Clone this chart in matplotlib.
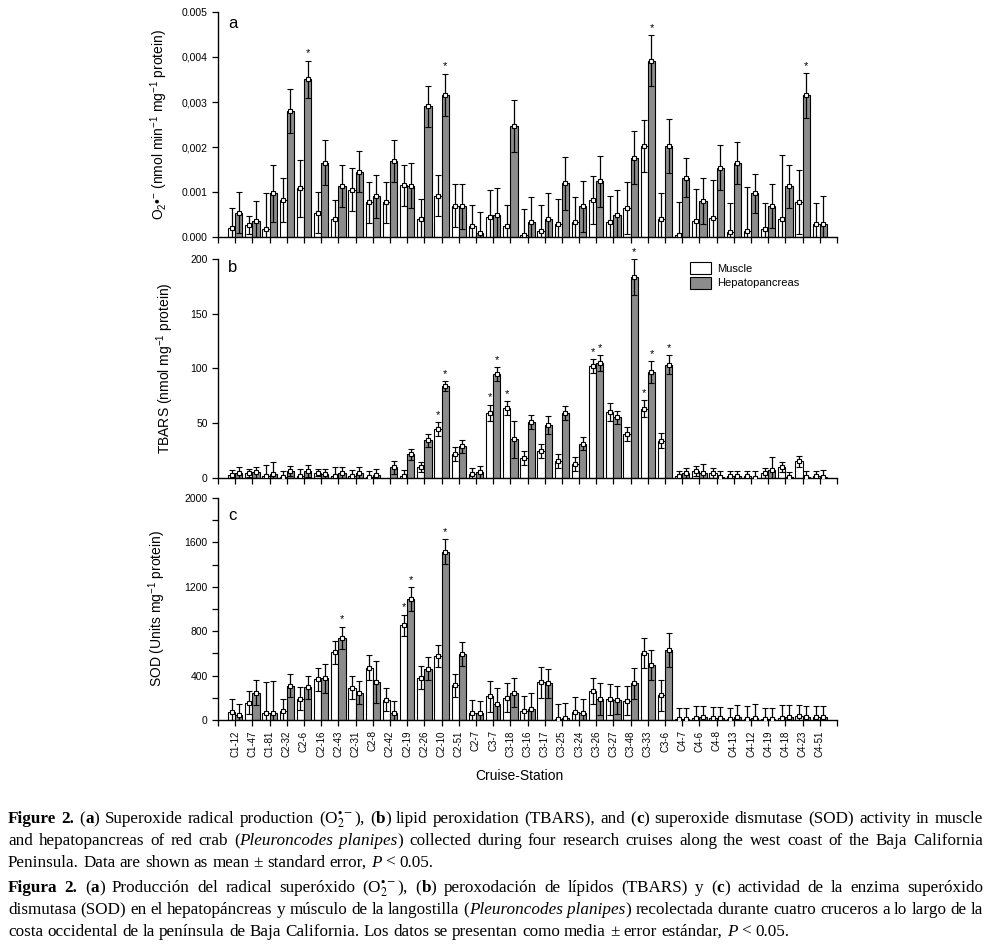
import re
import numpy as np
import matplotlib
matplotlib.use("Agg")
import matplotlib.pyplot as plt
from matplotlib.patches import Patch

plt.rcParams['font.family'] = ['Liberation Sans', 'DejaVu Sans']
plt.rcParams['mathtext.fontset'] = 'custom'
plt.rcParams['mathtext.rm'] = 'Liberation Sans'
plt.rcParams['mathtext.it'] = 'Liberation Sans:italic'
plt.rcParams['mathtext.bf'] = 'Liberation Sans:bold'

stations = ['C1-12', 'C1-47', 'C1-81', 'C2-32', 'C2-6', 'C2-16', 'C2-43', 'C2-31', 'C2-8',
            'C2-42', 'C2-19', 'C2-26', 'C2-10', 'C2-51', 'C2-7', 'C3-7', 'C3-18', 'C3-16',
            'C3-17', 'C3-25', 'C3-24', 'C3-26', 'C3-27', 'C3-48', 'C3-33', 'C3-6', 'C4-7',
            'C4-6', 'C4-8', 'C4-13', 'C4-12', 'C4-19', 'C4-18', 'C4-23', 'C4-51']

# (a) superoxide radical
o2_muscle = [0.00019, 0.00026, 0.00017, 0.00082, 0.00108, 0.00054, 0.00040, 0.00105, 0.00077,
             0.00077, 0.00115, 0.00041, 0.00092, 0.00070, 0.00025, 0.00045, 0.00025, 0.00005,
             0.00013, 0.00028, 0.00033, 0.00082, 0.00033, 0.00065, 0.00202, 0.00039, 0.00004,
             0.00036, 0.00043, 0.00012, 0.00014, 0.00017, 0.00040, 0.00077, 0.00030]
o2_muscle_se = [0.00045, 0.00020, 0.00080, 0.00048, 0.00063, 0.00045, 0.00042, 0.00048, 0.00045,
                0.00045, 0.00046, 0.00043, 0.00046, 0.00048, 0.00046, 0.00060, 0.00046, 0.00057,
                0.00059, 0.00057, 0.00056, 0.00054, 0.00059, 0.00058, 0.00057, 0.00058, 0.00073,
                0.00070, 0.00083, 0.00063, 0.00098, 0.00058, 0.00142, 0.00071, 0.00045]
o2_hepato = [0.00054, 0.00035, 0.00097, 0.00280, 0.00350, 0.00165, 0.00113, 0.00145, 0.00090,
             0.00169, 0.00114, 0.00290, 0.00316, 0.00068, 0.00010, 0.00050, 0.00247, 0.00033,
             0.00041, 0.00119, 0.00068, 0.00124, 0.00048, 0.00176, 0.00392, 0.00202, 0.00132,
             0.00080, 0.00154, 0.00164, 0.00097, 0.00068, 0.00113, 0.00315, 0.00030]
o2_hepato_se = [0.00045, 0.00044, 0.00063, 0.00048, 0.00042, 0.00050, 0.00047, 0.00045, 0.00047,
                0.00046, 0.00050, 0.00046, 0.00047, 0.00050, 0.00046, 0.00060, 0.00058, 0.00056,
                0.00057, 0.00058, 0.00057, 0.00057, 0.00057, 0.00059, 0.00057, 0.00060, 0.00043,
                0.00050, 0.00050, 0.00047, 0.00044, 0.00049, 0.00048, 0.00050, 0.00060]
o2_sig_muscle = []
o2_sig_hepato = ['C2-6', 'C2-10', 'C3-33', 'C4-23']

# (b) TBARS
tbars_muscle = [2.4, 4.6, 2.1, 0.5, 1.5, 4.9, 1.8, 1.8, 0.9, np.nan, 2.1, 10.4, 44.6, 21.7, 4.0,
                59.8, 63.5, 18.6, 24.4, 15.5, 12.8, 102.3, 60.5, 40.3, 63.2, 34.0, 1.5, 6.7, 4.6,
                1.8, 1.5, 4.6, 10.4, 15.3, 1.5]
tbars_muscle_se = [5.0, 3.7, 10.0, 6.0, 6.7, 3.4, 8.0, 5.5, 5.8, np.nan, 5.5, 4.6, 6.1, 6.4, 5.2,
                   7.3, 6.4, 6.4, 6.4, 6.1, 6.4, 6.1, 8.2, 6.7, 7.9, 6.7, 5.2, 4.6, 4.9, 4.9, 5.2,
                   4.6, 4.6, 4.9, 5.2]
tbars_hepato = [4.6, 5.2, 4.0, 6.4, 6.7, 4.0, 4.6, 4.9, 2.7, 9.8, 21.7, 34.5, 84.0, 29.0, 5.2,
                94.7, 35.4, 50.7, 48.2, 59.3, 31.5, 104.7, 55.3, 183.5, 96.5, 103.5, 4.6, 4.6, 0.9,
                1.8, 0.3, 7.6, 0.6, 0.9, 0.6]
tbars_hepato_se = [5.5, 5.2, 10.4, 4.9, 5.5, 4.0, 5.2, 5.5, 5.5, 6.1, 4.9, 6.1, 4.3, 6.1, 5.8,
                   6.4, 17.0, 6.4, 8.0, 6.1, 5.5, 7.3, 6.1, 16.5, 10.0, 8.5, 4.6, 8.5, 5.5, 4.9,
                   6.4, 11.6, 5.0, 5.2, 7.0]
tbars_sig_muscle = ['C2-10', 'C3-7', 'C3-18', 'C3-26', 'C3-33']
tbars_sig_hepato = ['C2-10', 'C3-7', 'C3-26', 'C3-48', 'C3-33', 'C3-6']

# (c) SOD
sod_muscle = [69, 157, 63, 81, 190, 368, 609, 290, 471, 184, 854, 380, 576, 314, 66, 214, 202, 84,
              341, 8, 72, 262, 187, 175, 606, 223, 6, 18, 21, 6, 9, 6, 21, 33, 24]
sod_muscle_se = [120, 105, 278, 109, 103, 103, 100, 103, 112, 106, 96, 103, 103, 103, 115, 139,
                 133, 130, 139, 137, 136, 118, 139, 133, 136, 139, 103, 109, 100, 103, 118, 103,
                 112, 103, 103]
sod_hepato = [48, 247, 63, 308, 293, 374, 739, 247, 344, 63, 1092, 462, 1517, 594, 63, 145, 247,
              103, 332, 22, 63, 187, 181, 332, 498, 633, 6, 24, 21, 24, 21, 6, 30, 24, 27]
sod_hepato_se = [97, 109, 284, 103, 100, 127, 103, 100, 190, 106, 109, 106, 112, 112, 112, 145,
                 133, 142, 130, 130, 124, 142, 127, 139, 136, 154, 103, 103, 100, 115, 124, 103,
                 103, 103, 100]
sod_sig_muscle = ['C2-19']
sod_sig_hepato = ['C2-43', 'C2-19', 'C2-10']

o2_ticks = [0, 0.001, 0.002, 0.003, 0.004, 0.005]
o2_ticklabels = ['0.000', '0.001', '0,002', '0,003', '0,004', '0.005']

caption_en = [
    "**Figure 2.** (**a**) Superoxide radical production (O$_2^{\\bullet-}$), (**b**) lipid peroxidation (TBARS), and (**c**) superoxide dismutase (SOD) activity in muscle",
    "and hepatopancreas of red crab (*Pleuroncodes planipes*) collected during four research cruises along the west coast of the Baja California",
    "Peninsula. Data are shown as mean ± standard error, *P* < 0.05.",
]
caption_es = [
    "**Figura 2.** (**a**) Producción del radical superóxido (O$_2^{\\bullet-}$), (**b**) peroxodación de lípidos (TBARS) y (**c**) actividad de la enzima superóxido",
    "dismutasa (SOD) en el hepatopáncreas y músculo de la langostilla (*Pleuroncodes planipes*) recolectada durante cuatro cruceros a lo largo de la",
    "costa occidental de la península de Baja California. Los datos se presentan como media ± error estándar, *P* < 0.05.",
]

W, H = 990, 946
fig = plt.figure(figsize=(W / 100, H / 100), dpi=100)
x = np.arange(len(stations))
gray = '#8c8c8c'


def panel(rect, m, mse, h, hse, sig_m, sig_h, ylim, label, letter, letter_y, label_x):
    ax = fig.add_axes(rect)
    m, mse, h, hse = map(np.asarray, (m, mse, h, hse))
    ax.bar(x - 0.21, m, 0.42, color='white', edgecolor='black', linewidth=0.8, zorder=2)
    ax.bar(x + 0.21, h, 0.42, color=gray, edgecolor='black', linewidth=0.8, zorder=2)
    for xx, yy, ee in ((x - 0.21, m, mse), (x + 0.21, h, hse)):
        ax.errorbar(xx, yy, yerr=ee, fmt='s', ms=3.2, mfc='white', mec='black', mew=0.8,
                    ecolor='black', elinewidth=0.9, capsize=2.4, capthick=0.9, zorder=3)
    for names, off, vals, errs in ((sig_m, -0.21, m, mse), (sig_h, 0.21, h, hse)):
        for s in names:
            i = stations.index(s)
            ax.annotate('*', (i + off, vals[i] + errs[i]), xytext=(0, 1.5),
                        textcoords='offset points', ha='center', va='bottom',
                        fontsize=8, annotation_clip=False)
    ax.set_xlim(-1, len(stations))
    ax.set_ylim(*ylim)
    ax.set_xticks(x)
    ax.set_xticks([-1, len(stations)], minor=True)
    ax.spines['top'].set_visible(False)
    ax.spines['right'].set_visible(False)
    for sp in ('left', 'bottom'):
        ax.spines[sp].set_linewidth(1.0)
    ax.tick_params(which='both', direction='out', length=4, width=0.9, labelsize=7.5)
    ax.set_ylabel(label, fontsize=10)
    ax.yaxis.set_label_coords(label_x, 0.5)
    ax.text(0.016, letter_y, letter, transform=ax.transAxes, fontsize=12, ha='left', va='center')
    return ax


left, width = 218 / W, 619 / W
ax_a = panel([left, 1 - 237 / H, width, 225 / H], o2_muscle, o2_muscle_se, o2_hepato, o2_hepato_se,
             o2_sig_muscle, o2_sig_hepato, (0, 0.005),
             'O$_2$•$^{-}$ (nmol min$^{-1}$ mg$^{-1}$ protein)', 'a', 0.947, -0.077)
ax_a.set_yticks(o2_ticks, o2_ticklabels)
ax_a.set_xticklabels([])

ax_b = panel([left, 1 - 478 / H, width, 219 / H], tbars_muscle, tbars_muscle_se, tbars_hepato,
             tbars_hepato_se, tbars_sig_muscle, tbars_sig_hepato, (0, 200),
             'TBARS (nmol mg$^{-1}$ protein)', 'b', 0.959, -0.068)
ax_b.set_yticks([0, 50, 100, 150, 200])
ax_b.set_xticklabels([])
ax_b.legend(handles=[Patch(facecolor='white', edgecolor='black', linewidth=0.8, label='Muscle'),
                     Patch(facecolor=gray, edgecolor='black', linewidth=0.8, label='Hepatopancreas')],
            loc='upper left', bbox_to_anchor=(0.762, 0.985), frameon=False, fontsize=8,
            handlelength=1.9, handleheight=1.25, handletextpad=0.55, labelspacing=0.25,
            borderpad=0, borderaxespad=0)

ax_c = panel([left, 1 - 720 / H, width, 222 / H], sod_muscle, sod_muscle_se, sod_hepato,
             sod_hepato_se, sod_sig_muscle, sod_sig_hepato, (0, 2000),
             'SOD (Units mg$^{-1}$ protein)', 'c', 0.923, -0.081)
ax_c.set_yticks([0, 400, 800, 1200, 1600, 2000])
ax_c.set_yticks(np.arange(200, 2000, 400), minor=True)
ax_c.set_xticklabels(stations, rotation=90, fontsize=7)
fig.text(519 / W, 1 - 776 / H, 'Cruise-Station', ha='center', va='center', fontsize=10)

# caption, justified word by word
renderer = fig.canvas.get_renderer()
cap_size = 12.3
cap_left, cap_right = 8, 983


def split_words(line):
    segs = []
    for part in re.split(r'(\*\*[^*]+\*\*|\*[^*]+\*)', line):
        if not part:
            continue
        if part.startswith('**'):
            segs.append((part[2:-2], 'bold', 'normal'))
        elif part.startswith('*'):
            segs.append((part[1:-1], 'normal', 'italic'))
        else:
            segs.append((part, 'normal', 'normal'))
    words = [[]]
    for s, wt, st in segs:
        for k, p in enumerate(s.split(' ')):
            if k > 0:
                words.append([])
            if p:
                words[-1].append((p, wt, st))
    return [w for w in words if w]


def cap_text(s, wt='normal', st='normal'):
    return fig.text(0, 0, s, fontsize=cap_size, family=['Liberation Serif', 'DejaVu Serif'],
                    weight=wt, style=st, math_fontfamily='stix', ha='left', va='baseline')


def width_px(t):
    return t.get_window_extent(renderer).width


t1, t2 = cap_text('x x'), cap_text('xx')
space_w = width_px(t1) - width_px(t2)
t1.remove()
t2.remove()


def caption_line(line, y_px, last):
    items = []
    for word in split_words(line):
        items.append([(t, width_px(t)) for t in (cap_text(s, wt, st) for s, wt, st in word)])
    total = sum(w for segs in items for _, w in segs)
    gap = space_w if last else (cap_right - cap_left - total) / (len(items) - 1)
    xp = cap_left
    for segs in items:
        for t, w in segs:
            t.set_position((xp / W, 1 - y_px / H))
            xp += w
        xp += gap


for lines, y0 in ((caption_en, 823), (caption_es, 892)):
    for k, line in enumerate(lines):
        caption_line(line, y0 + 22 * k, k == len(lines) - 1)

fig.savefig('out.png', dpi=100)
